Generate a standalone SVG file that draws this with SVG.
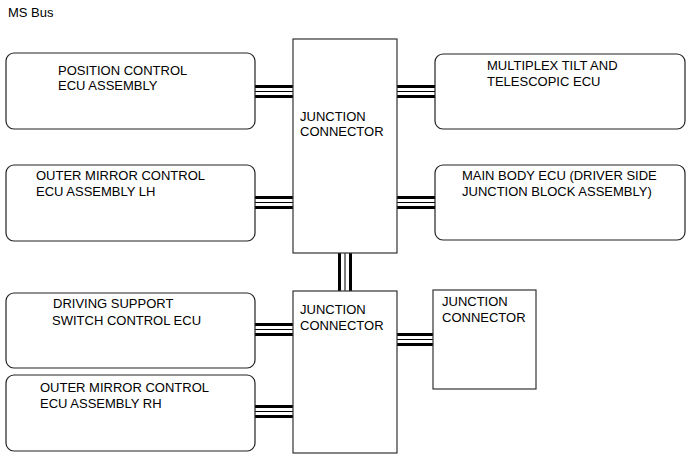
<svg xmlns="http://www.w3.org/2000/svg" width="691" height="465" viewBox="0 0 691 465">
<style>
.ecu{fill:#fff;stroke:#222;stroke-width:1.2}
.jc{fill:#fff;stroke:#333;stroke-width:1.2}
text{font-family:"Liberation Sans",Arial,sans-serif;font-size:13px;fill:#000}
.tk{stroke:#000;stroke-width:3}
.tn{stroke:#000;stroke-width:1}
</style>
<rect width="691" height="465" fill="#fff"/>
<text x="8" y="17">MS Bus</text>
<g id="connectors">
<g><line class="tk" x1="255" y1="86.5" x2="293" y2="86.5"/><line class="tn" x1="255" y1="91.5" x2="293" y2="91.5"/><line class="tk" x1="255" y1="96.5" x2="293" y2="96.5"/></g>
<g><line class="tk" x1="397" y1="86.5" x2="435" y2="86.5"/><line class="tn" x1="397" y1="91.5" x2="435" y2="91.5"/><line class="tk" x1="397" y1="96.5" x2="435" y2="96.5"/></g>
<g><line class="tk" x1="255" y1="197.5" x2="293" y2="197.5"/><line class="tn" x1="255" y1="202.5" x2="293" y2="202.5"/><line class="tk" x1="255" y1="207.5" x2="293" y2="207.5"/></g>
<g><line class="tk" x1="397" y1="197.5" x2="435" y2="197.5"/><line class="tn" x1="397" y1="202.5" x2="435" y2="202.5"/><line class="tk" x1="397" y1="207.5" x2="435" y2="207.5"/></g>
<g><line class="tk" x1="339.5" y1="253" x2="339.5" y2="291"/><line class="tn" x1="345" y1="253" x2="345" y2="291"/><line class="tk" x1="350.5" y1="253" x2="350.5" y2="291"/></g>
<g><line class="tk" x1="255" y1="324.5" x2="293" y2="324.5"/><line class="tn" x1="255" y1="329.5" x2="293" y2="329.5"/><line class="tk" x1="255" y1="334.5" x2="293" y2="334.5"/></g>
<g><line class="tk" x1="255" y1="406.5" x2="293" y2="406.5"/><line class="tn" x1="255" y1="411.5" x2="293" y2="411.5"/><line class="tk" x1="255" y1="416.5" x2="293" y2="416.5"/></g>
<g><line class="tk" x1="397" y1="334.5" x2="433" y2="334.5"/><line class="tn" x1="397" y1="339.5" x2="433" y2="339.5"/><line class="tk" x1="397" y1="344.5" x2="433" y2="344.5"/></g>
</g>
<g id="pos">
<rect class="ecu" x="6" y="53" width="249" height="76" rx="8"/>
<text x="58" y="75">POSITION CONTROL</text>
<text x="58" y="90">ECU ASSEMBLY</text>
</g>
<g id="lh">
<rect class="ecu" x="6" y="165" width="249" height="76" rx="8"/>
<text x="36" y="180">OUTER MIRROR CONTROL</text>
<text x="36" y="196">ECU ASSEMBLY LH</text>
</g>
<g id="drv">
<rect class="ecu" x="6" y="293" width="249" height="75" rx="8"/>
<text x="53" y="308">DRIVING SUPPORT</text>
<text x="52" y="325">SWITCH CONTROL ECU</text>
</g>
<g id="rh">
<rect class="ecu" x="6" y="375" width="249" height="76" rx="8"/>
<text x="40" y="392">OUTER MIRROR CONTROL</text>
<text x="40" y="408">ECU ASSEMBLY RH</text>
</g>
<g id="mtt">
<rect class="ecu" x="435" y="54" width="250" height="75" rx="8"/>
<text x="487" y="70">MULTIPLEX TILT AND</text>
<text x="487" y="86">TELESCOPIC ECU</text>
</g>
<g id="mb">
<rect class="ecu" x="435" y="165" width="250" height="75" rx="8"/>
<text x="462" y="180">MAIN BODY ECU (DRIVER SIDE</text>
<text x="462" y="196">JUNCTION BLOCK ASSEMBLY)</text>
</g>
<g id="jc1">
<rect class="jc" x="293" y="39" width="104" height="214"/>
<text x="300" y="121">JUNCTION</text>
<text x="300" y="136">CONNECTOR</text>
</g>
<g id="jc2">
<rect class="jc" x="293" y="291" width="104" height="162"/>
<text x="300" y="314">JUNCTION</text>
<text x="300" y="330">CONNECTOR</text>
</g>
<g id="jc3">
<rect class="jc" x="433" y="290" width="103" height="99"/>
<text x="442" y="306">JUNCTION</text>
<text x="442" y="322">CONNECTOR</text>
</g>
</svg>
